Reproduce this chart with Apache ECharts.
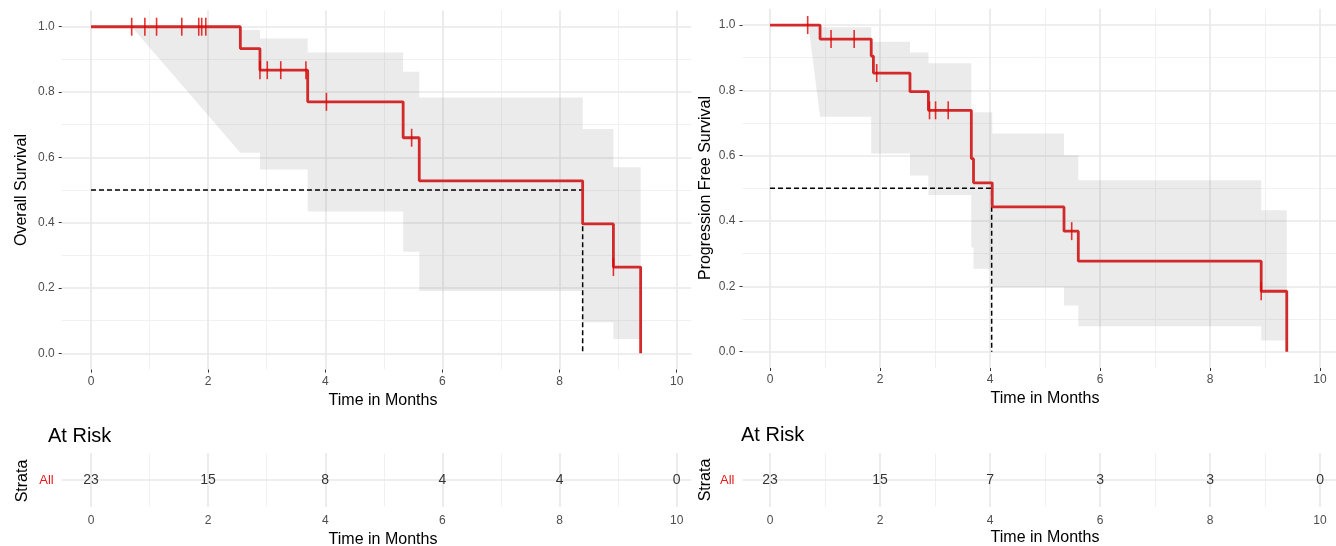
<!DOCTYPE html>
<html><head><meta charset="utf-8">
<script src="https://cdn.jsdelivr.net/npm/echarts@6/dist/echarts.min.js"></script>
<style>html,body{margin:0;padding:0;background:#fff}#c{width:1336px;height:546px}</style>
</head><body><div id="c"></div>
<script>
// ---------- Overall survival (left) ----------
const osTimes = [0, 2.55, 2.885, 3.70, 5.33, 5.605, 8.395, 8.92, 9.385];
const osSurv  = [1, 0.933, 0.867, 0.770, 0.660, 0.528, 0.396, 0.264, 0];
const osCensorT = [0.695, 0.92, 1.12, 1.55, 1.84, 1.89, 1.96, 2.885, 3.01, 3.24, 3.67, 4.02, 5.475, 8.92];
const osCensorS = [1, 1, 1, 1, 1, 1, 1, 0.867, 0.867, 0.867, 0.867, 0.770, 0.660, 0.264];
const osBandT  = [0.695, 2.55, 2.55, 2.885, 2.885, 3.70, 3.70, 5.33, 5.33, 5.605, 5.605, 8.395, 8.395, 8.92, 8.92, 9.385];
const osBandLo = [1.0, 0.614, 0.614, 0.614, 0.563, 0.563, 0.434, 0.434, 0.311, 0.311, 0.191, 0.191, 0.095, 0.095, 0.044, 0.044];
const osBandHi = [1.0, 1.0, 0.99, 0.99, 0.964, 0.964, 0.921, 0.921, 0.862, 0.862, 0.783, 0.783, 0.687, 0.687, 0.570, 0.570];
const osMedian = 8.395;
const osRisk = [23, 15, 8, 4, 4, 0];

// ---------- Progression free survival (right) ----------
const pfsTimes = [0, 0.91, 1.84, 1.88, 2.545, 2.88, 3.66, 3.70, 4.04, 5.345, 5.605, 8.93, 9.395];
const pfsSurv  = [1, 0.957, 0.905, 0.853, 0.796, 0.739, 0.591, 0.517, 0.443, 0.369, 0.277, 0.185, 0];
const pfsCensorT = [0.685, 1.11, 1.53, 1.94, 2.90, 3.01, 3.24, 5.485, 8.93];
const pfsCensorS = [1, 0.957, 0.957, 0.853, 0.739, 0.739, 0.739, 0.369, 0.185];
const pfsBandT  = [0.697, 0.91, 0.91, 1.84, 1.84, 2.545, 2.545, 2.88, 2.88, 3.66, 3.66, 3.70, 3.70, 4.04, 4.04, 5.345, 5.345, 5.605, 5.605, 8.93, 8.93, 9.395];
const pfsBandLo = [1.0, 0.719, 0.719, 0.719, 0.607, 0.607, 0.539, 0.539, 0.480, 0.480, 0.32, 0.32, 0.254, 0.254, 0.197, 0.197, 0.141, 0.141, 0.078, 0.078, 0.034, 0.034];
const pfsBandHi = [1.0, 1.0, 0.993, 0.993, 0.949, 0.949, 0.916, 0.916, 0.883, 0.883, 0.733, 0.733, 0.733, 0.733, 0.668, 0.668, 0.601, 0.601, 0.525, 0.525, 0.433, 0.433];
const pfsMedian = 4.03;
const pfsRisk = [23, 15, 7, 3, 3, 0];

// ---------- ticks ----------
const riskTimes = [0, 2, 4, 6, 8, 10];
const xTickLabels = [0, 2, 4, 6, 8, 10];
const xMinorGrid = [1, 3, 5, 7, 9];
const yTickLabels = [0, 0.2, 0.4, 0.6, 0.8, 1.0];
const yMinorGrid = [0.1, 0.3, 0.5, 0.7, 0.9];
const strata = ['All'];

const FONT = '"Liberation Sans", Arial, sans-serif';
const CURVE = '#d22a2a';
const CENSOR = '#e00000';

function xAxisCfg(gi, max, margin, ticks) {
  return {gridIndex: gi, type: 'value', min: -0.5, max: max,
    axisLine: {show: false, onZero: false}, splitLine: {show: false},
    axisTick: {show: ticks, customValues: xTickLabels, length: 3, lineStyle: {color: '#333', width: 1}},
    axisLabel: {customValues: xTickLabels, color: '#4d4d4d', fontSize: 12, fontFamily: FONT, margin: margin}};
}
function yAxisCfg(gi) {
  return {gridIndex: gi, type: 'value', min: -0.05, max: 1.05,
    axisLine: {show: false, onZero: false}, splitLine: {show: false},
    axisTick: {show: true, customValues: yTickLabels, length: 3, lineStyle: {color: '#333', width: 1}},
    axisLabel: {customValues: yTickLabels, formatter: v => v.toFixed(1), color: '#4d4d4d', fontSize: 12, fontFamily: FONT, margin: 7}};
}
function yCatCfg(gi) {
  return {gridIndex: gi, type: 'category', data: strata,
    axisLine: {show: false, onZero: false}, splitLine: {show: false},
    axisTick: {show: false},
    axisLabel: {color: '#e41a1c', fontSize: 13, fontFamily: FONT, margin: 8}};
}
const MAJ = {color: '#e8e8e8', width: 1.6, type: 'solid'};
const MIN = {color: '#f1f1f1', width: 1, type: 'solid'};
function gridLines(gi, xMaj, xMin, yMaj, yMin) {
  const d = [];
  xMin.forEach(v => d.push({xAxis: v, lineStyle: MIN}));
  yMin.forEach(v => d.push({yAxis: v, lineStyle: MIN}));
  xMaj.forEach(v => d.push({xAxis: v, lineStyle: MAJ}));
  yMaj.forEach(v => d.push({yAxis: v, lineStyle: MAJ}));
  return {type: 'line', xAxisIndex: gi, yAxisIndex: gi, data: [], z: 0, silent: true,
    markLine: {silent: true, z: 0, symbol: ['none', 'none'], label: {show: false}, animation: false, data: d}};
}
function bandSeries(gi, T, Lo, Hi) {
  return {type: 'custom', xAxisIndex: gi, yAxisIndex: gi, z: 2, silent: true, data: [[0, 0]],
    renderItem: (params, api) => {
      const pts = [];
      for (let i = 0; i < T.length; i++) pts.push(api.coord([T[i], Hi[i]]));
      for (let i = T.length - 1; i >= 0; i--) pts.push(api.coord([T[i], Lo[i]]));
      return {type: 'polygon', shape: {points: pts}, style: {fill: 'rgba(128,128,128,0.16)'}};
    }};
}
function curveSeries(gi, T, S) {
  return {type: 'line', xAxisIndex: gi, yAxisIndex: gi, z: 4, step: 'end', symbol: 'none',
    data: T.map((t, i) => [t, S[i]]), lineStyle: {color: CURVE, width: 2.8}};
}
function censorSeries(gi, T, S) {
  return {type: 'scatter', xAxisIndex: gi, yAxisIndex: gi, z: 5, symbol: 'rect', symbolSize: [1.6, 18],
    data: T.map((t, i) => [t, S[i]]), itemStyle: {color: CENSOR}};
}
function medianSeries(gi, m) {
  return {type: 'line', xAxisIndex: gi, yAxisIndex: gi, z: 3, symbol: 'none',
    data: [[0, 0.5], [m, 0.5], [m, 0]], lineStyle: {color: '#000', width: 1.5, type: [5, 3]}};
}
function riskSeries(gi, R) {
  return {type: 'scatter', xAxisIndex: gi, yAxisIndex: gi, z: 5, symbolSize: 0,
    data: riskTimes.map((t, i) => [t, strata[0], R[i]]),
    label: {show: true, position: 'inside', formatter: p => String(p.value[2]), color: '#000', fontSize: 14, fontFamily: FONT}};
}
function txt(x, y, s, size, rot, align) {
  return {type: 'text', x: x, y: y, rotation: rot || 0, silent: true,
    style: {text: s, font: size + 'px ' + FONT, fill: '#000', align: align || 'center', verticalAlign: 'middle'}};
}

const chart = echarts.init(document.getElementById('c'), null, {renderer: 'canvas'});
chart.setOption({
  animation: false,
  backgroundColor: '#fff',
  grid: [
    {left: 61.7, top: 10.4, width: 629.6, height: 359.2},
    {left: 742.5, top: 8.7, right: 0, height: 359.3},
    {left: 61.7, top: 453, width: 629.6, height: 54},
    {left: 742.5, top: 453, right: 0, height: 54}
  ],
  xAxis: [xAxisCfg(0, 10.25, 6, true), xAxisCfg(1, 10.29, 6, true), xAxisCfg(2, 10.25, 8, false), xAxisCfg(3, 10.29, 8, false)],
  yAxis: [yAxisCfg(0), yAxisCfg(1), yCatCfg(2), yCatCfg(3)],
  series: [
    gridLines(0, xTickLabels, xMinorGrid, yTickLabels, yMinorGrid),
    gridLines(1, xTickLabels, xMinorGrid, yTickLabels, yMinorGrid),
    gridLines(2, xTickLabels, xMinorGrid, strata, []),
    gridLines(3, xTickLabels, xMinorGrid, strata, []),
    bandSeries(0, osBandT, osBandLo, osBandHi),
    bandSeries(1, pfsBandT, pfsBandLo, pfsBandHi),
    medianSeries(0, osMedian),
    medianSeries(1, pfsMedian),
    curveSeries(0, osTimes, osSurv),
    curveSeries(1, pfsTimes, pfsSurv),
    censorSeries(0, osCensorT, osCensorS),
    censorSeries(1, pfsCensorT, pfsCensorS),
    riskSeries(2, osRisk),
    riskSeries(3, pfsRisk)
  ],
  graphic: [
    txt(22, 190, 'Overall Survival', 16, Math.PI / 2),
    txt(706, 188, 'Progression Free Survival', 16, Math.PI / 2),
    txt(383, 401, 'Time in Months', 16),
    txt(1045, 399, 'Time in Months', 16),
    txt(48, 436, 'At Risk', 20, 0, 'left'),
    txt(741, 435, 'At Risk', 20, 0, 'left'),
    txt(23, 481, 'Strata', 16, Math.PI / 2),
    txt(706, 480, 'Strata', 16, Math.PI / 2),
    txt(383, 540, 'Time in Months', 16),
    txt(1045, 538, 'Time in Months', 16)
  ]
});
</script></body></html>
